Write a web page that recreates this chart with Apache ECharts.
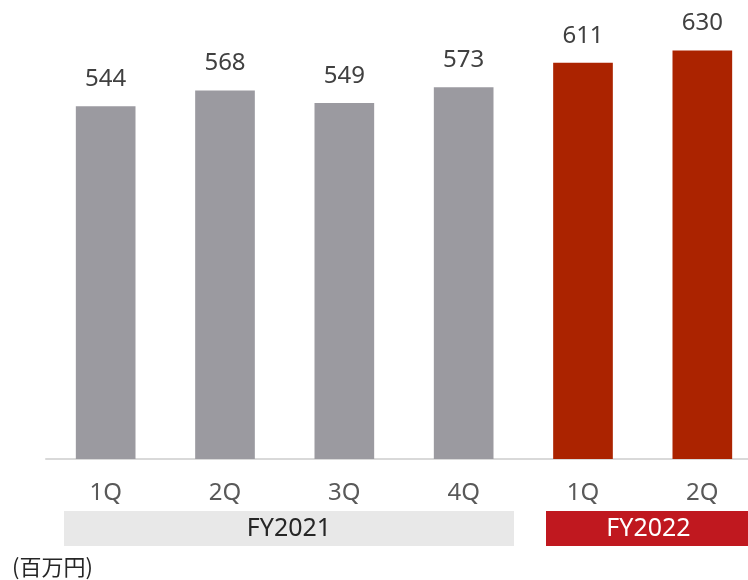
<!DOCTYPE html>
<html>
<head>
<meta charset="utf-8">
<script src="https://cdn.jsdelivr.net/npm/echarts@6/dist/echarts.min.js"></script>
<style>
  html, body { margin: 0; padding: 0; background: #fff; }
  #main { width: 748px; height: 580px; }
</style>
</head>
<body>
<div id="main"></div>
<script>
// 四半期ごとの数値（百万円）
const quarters = ['1Q', '2Q', '3Q', '4Q', '1Q', '2Q'];
const fiscalYear = ['FY2021', 'FY2021', 'FY2021', 'FY2021', 'FY2022', 'FY2022'];
const values = [544, 568, 549, 573, 611, 630];
const unitLabel = '(百万円)';

const barColor = { FY2021: '#9b9aa0', FY2022: '#ab2300' };
const font = '"Noto Sans", "Noto Sans CJK JP", sans-serif';

const chart = echarts.init(document.getElementById('main'), null, { renderer: 'canvas' });

function band(left, width, text, fill, textColor) {
  return {
    type: 'rect', left: left, top: 511, silent: true,
    shape: { width: width, height: 35 },
    style: { fill: fill },
    textContent: {
      style: { text: text, fill: textColor, fontSize: 25, fontFamily: font }
    },
    textConfig: { position: 'inside' }
  };
}

const option = {
  animation: false,
  grid: { left: 46, right: -14, top: 5, bottom: 121, outerBoundsMode: 'none', containLabel: false },
  xAxis: {
    type: 'category',
    data: quarters,
    axisLine: { lineStyle: { color: '#d9d9d9', width: 2 } },
    axisTick: { show: false },
    axisLabel: { fontSize: 24, color: '#595959', fontFamily: font, margin: 22 }
  },
  yAxis: {
    type: 'value',
    min: 0,
    max: 700,
    show: false,
    splitLine: { show: false }
  },
  series: [{
    type: 'bar',
    barWidth: '50%',
    data: values.map((v, i) => ({ value: v, itemStyle: { color: barColor[fiscalYear[i]] } })),
    label: {
      show: true,
      position: 'top',
      distance: 15,
      fontSize: 24,
      color: '#404040',
      fontFamily: font
    }
  }],
  graphic: [
    // 年度の帯
    band(64, 450, 'FY2021', '#e8e8e8', '#262626'),
    band(546, 205, 'FY2022', '#c0181f', '#ffffff'),
    {
      type: 'text', left: 12, top: 556,
      style: { text: unitLabel, fontSize: 22, fontFamily: '"Noto Sans CJK JP", sans-serif', fill: '#262626' }
    }
  ]
};

chart.setOption(option);
</script>
</body>
</html>
